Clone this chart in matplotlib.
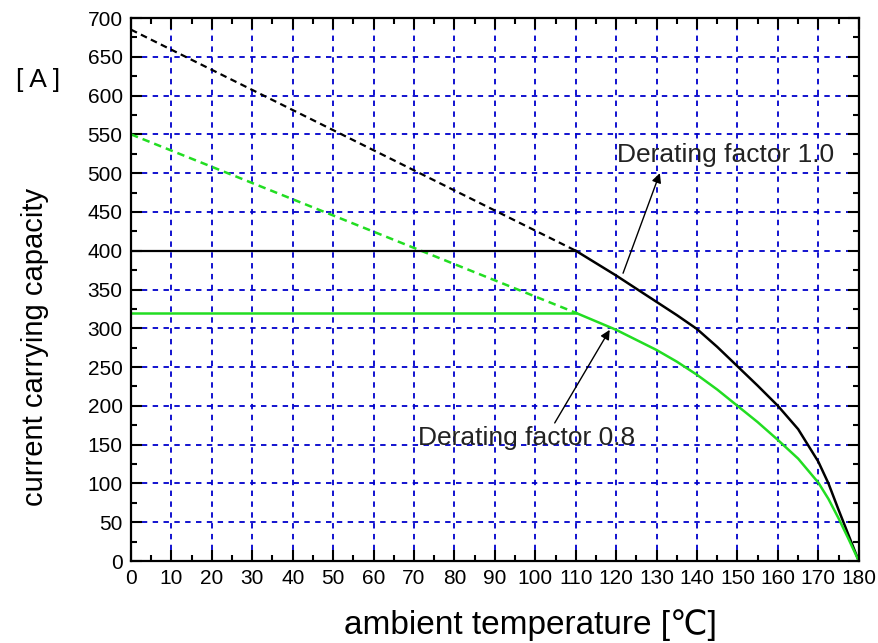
"""Current carrying capacity vs ambient temperature (derating curves)."""
import matplotlib
matplotlib.use("Agg")
import matplotlib.pyplot as plt
from matplotlib.ticker import MultipleLocator

plt.rcParams["font.family"] = ["Liberation Sans", "DejaVu Sans"]

# derating factor 1.0
temp_hi = [110, 115, 120, 125, 130, 135, 140, 145, 150, 155, 160, 165,
           170, 172.5, 175, 177.5, 180]
amp_hi = [400, 384, 368, 351, 334, 317, 299, 276, 251, 226, 200, 170,
          128, 100, 66, 33, 0]
flat_hi_t = [0, 110]
flat_hi_a = [400, 400]
dash_hi_t = [0, 110]
dash_hi_a = [685, 400]

# derating factor 0.8
temp_lo = [110, 115, 120, 125, 130, 135, 140, 145, 150, 155, 160, 165,
           170, 172.5, 175, 177.5, 180]
amp_lo = [320, 309, 298, 285, 272, 257, 240, 221, 200, 179, 156, 132,
          101, 80, 55, 28, 0]
flat_lo_t = [0, 110]
flat_lo_a = [320, 320]
dash_lo_t = [0, 110]
dash_lo_a = [550, 320]

GREEN = "#22dd22"
GRID = "#0000cc"

fig = plt.figure(figsize=(8.79, 6.43), dpi=100)
ax = fig.add_axes([0.149, 0.1275, 0.828, 0.8445])

ax.plot(dash_hi_t, dash_hi_a, color="black", linestyle=(0, (3, 2)), linewidth=1.6)
ax.plot(dash_lo_t, dash_lo_a, color=GREEN, linestyle=(0, (3, 2)), linewidth=1.8)
ax.plot(flat_hi_t, flat_hi_a, color="black", linewidth=1.6)
ax.plot(temp_hi, amp_hi, color="black", linewidth=1.8)
ax.plot(flat_lo_t, flat_lo_a, color=GREEN, linewidth=1.8)
ax.plot(temp_lo, amp_lo, color=GREEN, linewidth=1.8)

ax.set_xlim(0, 180)
ax.set_ylim(0, 700)
ax.xaxis.set_major_locator(MultipleLocator(10))
ax.xaxis.set_minor_locator(MultipleLocator(5))
ax.yaxis.set_major_locator(MultipleLocator(50))
ax.yaxis.set_minor_locator(MultipleLocator(25))
ax.tick_params(which="both", direction="in", top=True, right=True,
               labelsize=15, width=1.5, pad=6)
ax.tick_params(which="major", length=8)
ax.tick_params(which="minor", length=4)
for s in ax.spines.values():
    s.set_linewidth(1.6)

ax.grid(True, which="major", color=GRID, linestyle=(0, (3, 3)), linewidth=1.3)
ax.set_axisbelow(True)

arrow = dict(arrowstyle="-|>", color="black", lw=1.0,
             shrinkA=0, shrinkB=0, mutation_scale=14)
ax.annotate("", xy=(130.8, 500), xytext=(121.7, 371), arrowprops=arrow)
ax.text(120.2, 523, "Derating factor 1.0", fontsize=19, va="center",
        color="#222222")
ax.annotate("", xy=(118.4, 298), xytext=(104.8, 178), arrowprops=arrow)
ax.text(71, 158, "Derating factor 0.8", fontsize=19, va="center",
        color="#222222")

fig.text(0.04, 0.46, "current carrying capacity", rotation=90,
         fontsize=21, ha="center", va="center")
fig.text(0.043, 0.875, "[ A ]", fontsize=19, ha="center", va="center")
fig.text(0.604, 0.028, "ambient temperature [\u2103]", fontsize=24,
         ha="center", va="center")

fig.savefig("out.png", dpi=100)
